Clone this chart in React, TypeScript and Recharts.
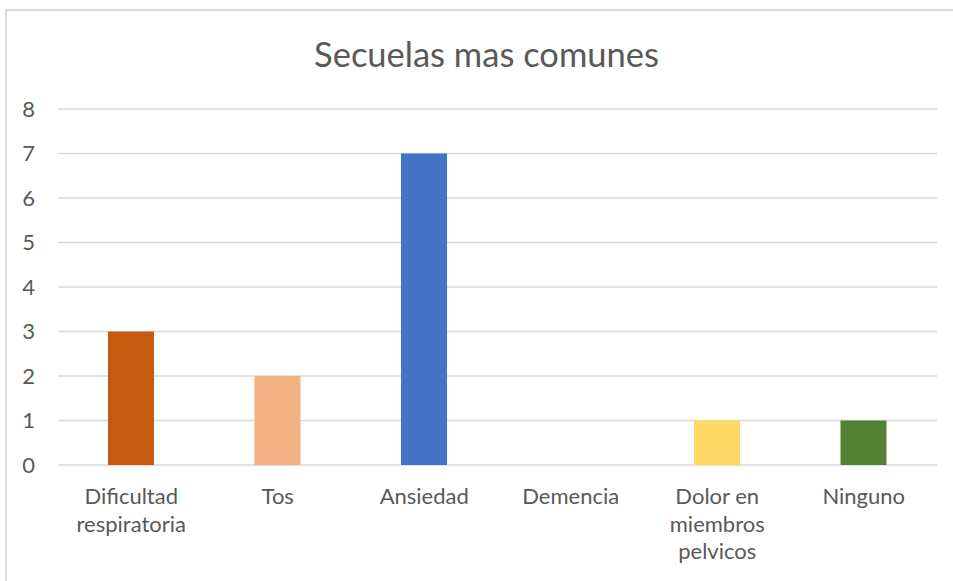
import React from "react";
import { BarChart, Bar, XAxis, YAxis, CartesianGrid, Cell } from "recharts";

const categories = [
  "Dificultad respiratoria",
  "Tos",
  "Ansiedad",
  "Demencia",
  "Dolor en miembros pelvicos",
  "Ninguno",
];
const values = [3, 2, 7, 0, 1, 1];
const barColors = ["#C55A11", "#F4B183", "#4472C4", "#A5A5A5", "#FFD966", "#548235"];
const yTicks = [0, 1, 2, 3, 4, 5, 6, 7, 8];
const title = "Secuelas mas comunes";

const data = categories.map((name, i) => ({ name, value: values[i] }));

const FONT = "Lato, 'Open Sans', sans-serif";
const TEXT_COLOR = "#595959";

function wrap(label: string, maxChars: number): string[] {
  const words = label.split(" ");
  const lines: string[] = [];
  let cur = "";
  for (const w of words) {
    if (!cur) cur = w;
    else if ((cur + " " + w).length <= maxChars) cur = cur + " " + w;
    else {
      lines.push(cur);
      cur = w;
    }
  }
  if (cur) lines.push(cur);
  return lines;
}

const XTick = (props: any) => {
  const { x, y, payload } = props;
  const lines = wrap(String(payload.value), 12);
  return (
    <text
      x={x}
      y={y}
      textAnchor="middle"
      fill={TEXT_COLOR}
      style={{ fontFamily: FONT, fontSize: 22 }}
    >
      {lines.map((l, i) => (
        <tspan key={i} x={x} y={y + 31 + i * 27.5}>
          {l}
        </tspan>
      ))}
    </text>
  );
};

export default function App() {
  return (
    <div
      style={{
        position: "absolute",
        left: 0,
        top: 0,
        width: 953,
        height: 581,
        overflow: "hidden",
        background: "#fff",
      }}
    >
      <div
        style={{
          position: "absolute",
          left: 5,
          top: 9,
          width: 1000,
          height: 1000,
          border: "2px solid #D9D9D9",
        }}
      />
      <div
        style={{
          position: "absolute",
          left: 0,
          top: 30,
          width: 973,
          textAlign: "center",
          fontFamily: FONT,
          fontSize: 34.5,
          color: TEXT_COLOR,
          lineHeight: "48px",
        }}
      >
        {title}
      </div>
      <div style={{ position: "absolute", left: 0, top: 0 }}>
        <BarChart
          width={953}
          height={581}
          data={data}
          margin={{ top: 109, right: 16, bottom: 0, left: 0 }}
        >
          <CartesianGrid vertical={false} stroke="#D9D9D9" strokeWidth={1.5} />
          <XAxis
            dataKey="name"
            axisLine={false}
            tickLine={false}
            interval={0}
            tick={<XTick />}
            height={116}
          />
          <YAxis
            domain={[0, 8]}
            ticks={yTicks}
            axisLine={false}
            tickLine={false}
            width={58}
            tickMargin={17}
            tick={{ fill: TEXT_COLOR, fontSize: 22, fontFamily: FONT }}
          />
          <Bar dataKey="value" barSize={46} isAnimationActive={false}>
            {data.map((_, i) => (
              <Cell key={i} fill={barColors[i]} />
            ))}
          </Bar>
        </BarChart>
      </div>
    </div>
  );
}
